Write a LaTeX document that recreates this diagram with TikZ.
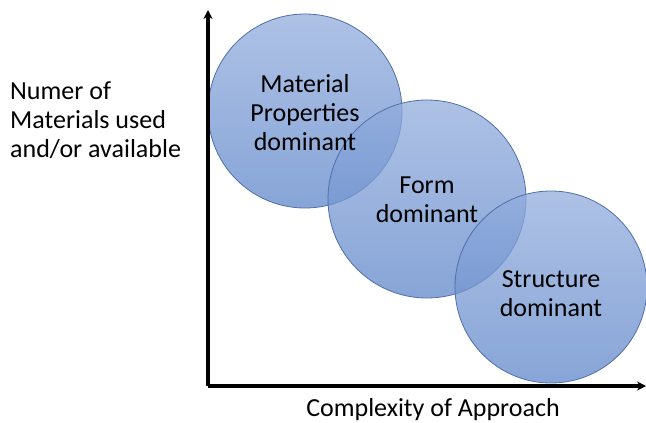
\documentclass[tikz,border=0pt]{standalone}
\usepackage{fontspec}
\setmainfont{Carlito}
\usetikzlibrary{arrows.meta}
\definecolor{bubtop}{RGB}{145,172,220}
\definecolor{bubbot}{RGB}{93,133,201}
\definecolor{bubline}{RGB}{80,110,170}
\begin{document}
\begin{tikzpicture}[x=1pt,y=-1pt,
  bub/.style={circle,draw=bubline,line width=0.8pt,fill opacity=0.74,
    top color=bubtop,bottom color=bubbot,inner sep=0pt},
  lbl/.style={font=\fontsize{26}{29}\selectfont,align=center,text=black,inner sep=0pt},
  axis/.style={line width=3.2pt,-{Stealth[length=9pt,width=9pt]}}]
\useasboundingbox (0,0) rectangle (646,423);
\coordinate (o) at (208,386);
\coordinate (ytop) at (208,10);
\coordinate (xend) at (646,386);
\node[bub,minimum size=194pt] (c1) at (305,111) {};
\node[bub,minimum size=198pt] (c2) at (427,199) {};
\node[bub,minimum size=192pt] (c3) at (551,287) {};
\draw[axis] (o) -- (ytop);
\draw[axis] (o) -- (xend);
\node[lbl] (t1) at (305,113) {Material\\Properties\\dominant};
\node[lbl] (t2) at (427,200) {Form\\dominant};
\node[lbl] (t3) at (551,294) {Structure\\dominant};
\node[lbl,align=left,anchor=west] (ylab) at (10,120) {Numer of\\Materials used\\and/or available};
\node[lbl,anchor=base] (xlab) at (433,416) {Complexity of Approach};
\end{tikzpicture}
\end{document}
